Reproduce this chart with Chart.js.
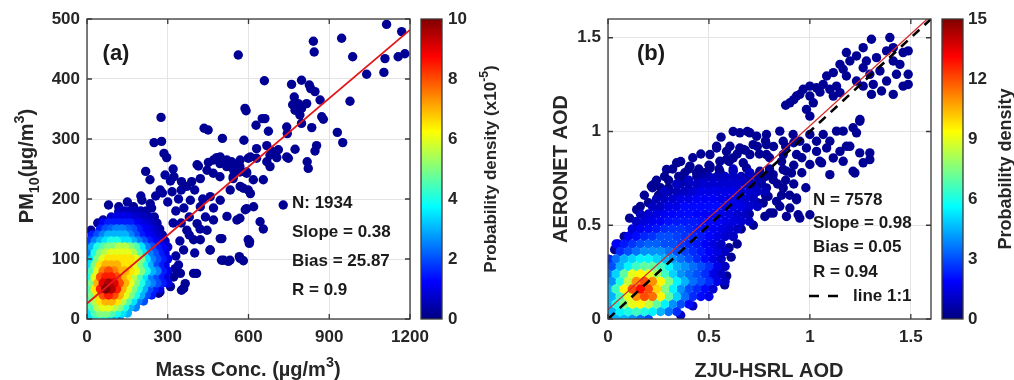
<!DOCTYPE html>
<html>
<head>
<meta charset="utf-8">
<script src="https://cdn.jsdelivr.net/npm/chart.js@4.4.0/dist/chart.umd.min.js"></script>
<style>
  html, body { margin: 0; padding: 0; background: #fff; }
  #wrap { position: relative; width: 1014px; height: 380px; overflow: hidden; }
  canvas { position: absolute; top: 0; }
</style>
</head>
<body>
<div id="wrap">
  <canvas id="plotA" style="left:0px" width="440" height="380"></canvas>
  <canvas id="plotB" style="left:510px" width="440" height="380"></canvas>
  <canvas id="barA" style="left:415px" width="95" height="380"></canvas>
  <canvas id="barB" style="left:935px" width="79" height="380"></canvas>
</div>
<script>
// ---- panel (a): PM10 vs mass concentration ----
const aRangeX = [0, 1200, 300];
const aRangeY = [0, 500, 100];
const aDensityRange = [0, 10, 2];
const aFitX = [0, 1200];
const aFitSlope = 0.38, aFitBias = 25.87;
const aStats = ['N: 1934', 'Slope = 0.38', 'Bias = 25.87', 'R = 0.9'];

// sparse points [x, y, density]
const aPoints = [
  [1113,491,0.2],[1169,479,0.2],[841,463,0.2],[844,445,0.2],[946,468,0.2],[562,440,0.2],[987,437,0.2],
  [1107,434,0.2],[1156,437,0.2],[1181,442,0.2],[1039,408,0.2],[1103,411,0.2],[659,397,0.2],[760,391,0.2],
  [797,398,0.2],[826,390,0.2],[831,384,0.2],[847,379,0.2],[866,365,0.2],[977,363,0.2],[770,370,0.2],
  [785,359,0.2],[773,348,0.2],[797,351,0.2],[816,359,0.2],[791,340,0.2],[764,357,0.2],[587,351,0.2],
  [591,347,0.2],[651,334,0.2],[628,323,0.2],[742,320,0.2],[797,326,0.2],[835,319,0.2],[872,337,0.2],
  [878,333,0.2],[674,313,0.2],[744,309,0.2],[930,311,0.2],[950,294,0.2],[583,298,0.2],[668,289,0.2],
  [630,284,0.2],[686,280,0.2],[711,282,0.2],[773,283,0.2],[853,289,0.2],[847,280,0.2],[705,269,0.2],
  [748,268,0.2],[818,262,0.2],[822,251,0.2],[668,262,0.2],[680,254,0.2],[599,268,0.2],[630,268,0.2],
  [655,232,0.2],[618,232,0.2],[537,262,0.2],[550,251,0.2],[568,245,0.2],[593,245,0.2],[543,234,0.2],
  [581,218,0.2],[599,215,0.2],[275,336,0.2],[249,294,0.2],[277,296,0.2],[286,276,0.2],[296,269,0.2],
  [218,246,0.2],[234,232,0.2],[323,237,0.2],[435,318,0.2],[450,315,0.2],[503,301,0.2],[661,334,0.2],
  [414,255,0.2],[451,261,0.2],[482,269,0.2],[494,259,0.2],[519,254,0.2],[543,259,0.2],[568,254,0.2],
  [351,229,0.2],[389,229,0.2],[421,234,0.2],[469,243,0.2],[494,237,0.2],[543,237,0.2],[593,243,0.2],
  [680,273,0.2],[742,270,0.2],[15,148,0.2],[80,190,0.2],[118,187,0.2],[118,179,0.2],[173,187,0.2],
  [204,198,0.2],[235,192,0.2],[272,215,0.2],[316,212,0.2],[371,221,0.2],[409,257,0.2],[446,248,0.2],
  [470,265,0.2],[495,270,0.2],[520,265,0.2],[545,248,0.2],[569,265,0.2],[607,270,0.2],[384,198,0.2],
  [421,187,0.2],[458,204,0.2],[495,198,0.2],[532,215,0.2],[569,221,0.2],[607,209,0.2],[619,187,0.2],
  [409,159,0.2],[446,148,0.2],[470,165,0.2],[520,171,0.2],[557,165,0.2],[588,182,0.2],[371,148,0.2],
  [396,132,0.2],[359,115,0.2],[421,132,0.2],[458,115,0.2],[501,134,0.2],[508,98,0.2],[569,101,0.2],
  [604,129,0.2],[328,84,0.2],[347,76,0.2],[365,59,0.2],[359,51,0.2],[396,76,0.2],[266,43,0.2],
  [285,70,0.2],[310,54,0.2],[322,70,0.2],[186,32,0.2],[729,190,0.2],[593,184,0.2],[643,162,0.2],
  [655,150,0.2],[599,132,0.2],[603,126,0.2],[500,98,0.2],[525,96,0.2],[566,104,0.2],[581,97,0.2],
  [457,115,0.2],[568,168,0.2],[495,134,0.2],[407,76,0.2],[351,48,0.2],[271,45,0.2],[531,98,0.2],
  [300,195,0.3],[330,180,0.3],[350,160,0.3],[340,200,0.3],[360,185,0.3],[380,170,0.3],[310,230,0.3],
  [280,210,0.3],[255,205,0.3],[240,185,0.3],[290,240,0.3],[320,250,0.3],[350,215,0.3],[400,215,0.3],
  [430,200,0.3],[380,140,0.3],[400,110,0.3],[420,150,0.3],[440,170,0.3],[470,185,0.3],[340,90,0.3],
  [330,105,0.3],[345,130,0.3],[320,160,0.3],[200,205,0.3],[150,195,0.3],[60,165,0.3],[40,160,0.3]
];

// dense cloud: density read on rows of the picture (row y, first x, step in x)
const aGridY  = [0, 10, 20, 30, 40, 50, 60, 70, 80, 90, 100, 110, 120, 130, 140, 150, 160, 170, 180];
const aGridX0 = [0, 10, 0, 10, 0, 10, 0, 10, 0, 10, 0, 10, 0, 10, 20, 50, 60, 90, 120];
const aGridStep = 20;
const aGridD = [
  [3, 3.5, 4, 4, 3.5, 3, 2.5],
  [3.5, 4.5, 5, 5, 4.5, 4, 3.5, 3],
  [3.5, 4.5, 5.5, 6, 6, 5.5, 5, 4, 3, 2.5],
  [4.5, 5.5, 6.5, 7, 7, 6.5, 5.5, 4.5, 3.5, 2.5, 2],
  [3.5, 5, 6.5, 8, 8.5, 8, 7, 6, 5, 4, 3, 2, 1.5],
  [4.5, 6.5, 8.5, 10, 9.5, 8.5, 7, 6, 5, 4, 3, 2, 1.5, 1],
  [3.5, 5, 7, 9, 9.5, 9, 8, 7, 6, 5, 4, 3, 2.5, 2, 1.5, 1],
  [4, 6, 8, 8.5, 8.5, 8, 7, 6.5, 5.5, 4.5, 3.5, 2.5, 2, 1.5, 1],
  [3, 4.5, 6, 7.5, 8, 7.5, 7, 7, 6.5, 6, 5, 4, 3, 2.5, 1.5, 1],
  [3.5, 5, 6.5, 7, 7, 7, 6.5, 6.5, 6, 5, 4, 3, 2, 1.5, 1],
  [2.5, 3.5, 5, 6, 6.5, 6.5, 6.5, 6.5, 6.5, 6, 5, 3.5, 2.5, 2, 1.5, 1],
  [2.5, 4, 5, 5.5, 6, 6, 6, 6, 5.5, 4.5, 3.5, 2.5, 2, 1.5, 1],
  [2, 3, 4, 4.5, 5, 5, 5.5, 5.5, 5, 4.5, 3.5, 2.5, 2, 1.5, 1.2, 0.8],
  [1.8, 2.5, 3, 3.5, 4, 4, 3.5, 3.5, 3, 2.5, 2, 1.5, 1.2, 0.8, 0.6],
  [1.5, 2, 2.5, 3, 3, 3, 3, 2.5, 2, 1.5, 1.2, 1, 0.7, 0.4],
  [1.5, 2, 2.2, 2.5, 2.5, 2.2, 2, 1.5, 1.2, 1, 0.7, 0.4],
  [1.2, 1.5, 1.5, 1.5, 1.5, 1.5, 1.2, 1, 0.8, 0.6, 0.4],
  [0.8, 1, 1, 1, 0.8, 0.7, 0.6, 0.5, 0.3],
  [0.6, 0.6, 0.5, 0.5, 0.4, 0.3]
];

// ---- panel (b): AERONET AOD vs ZJU-HSRL AOD ----
const bRangeX = [0, 1.6, 0.5];
const bRangeY = [0, 1.6, 0.5];
const bDensityRange = [0, 15, 3];
const bFitX = [0, 1.6];
const bFitSlope = 0.98, bFitBias = 0.05;
const bOneToOne = [0, 1.6];
const bStats = ['N = 7578', 'Slope = 0.98', 'Bias = 0.05', 'R = 0.94'];
const bLegendText = 'line 1:1';

const bPoints = [
  // upper cluster
  [1.305,1.492,0.3],[1.396,1.501,0.3],[1.264,1.447,0.3],[1.231,1.403,0.3],[1.181,1.421,0.3],[1.198,1.376,0.3],
  [1.280,1.376,0.3],[1.330,1.394,0.3],[1.380,1.430,0.3],[1.413,1.447,0.3],[1.462,1.421,0.3],[1.487,1.430,0.3],
  [1.149,1.358,0.3],[1.165,1.332,0.3],[1.116,1.314,0.3],[1.083,1.296,0.3],[1.181,1.296,0.3],[1.264,1.340,0.3],
  [1.297,1.305,0.3],[1.347,1.323,0.3],[1.380,1.269,0.3],[1.314,1.251,0.3],[1.231,1.269,0.3],[1.355,1.216,0.3],
  [1.413,1.198,0.3],[1.462,1.242,0.3],[1.487,1.251,0.3],[1.487,1.305,0.3],[1.429,1.305,0.3],[1.446,1.358,0.3],
  [1.413,1.376,0.3],[1.264,1.242,0.3],[1.305,1.198,0.3],
  // middle cluster
  [0.901,1.153,0.3],[0.934,1.189,0.3],[0.967,1.225,0.3],[1.0,1.242,0.3],[1.033,1.233,0.3],[1.066,1.251,0.3],
  [1.099,1.225,0.3],[1.132,1.242,0.3],[1.149,1.207,0.3],[1.116,1.189,0.3],[1.0,1.189,0.3],[1.017,1.153,0.3],
  [0.983,1.118,0.3],[1.0,1.082,0.3],[0.95,1.198,0.3],[0.92,1.17,0.3],[1.05,1.21,0.3],[0.88,1.14,0.3],
  // below the diagonal
  [1.0,0.984,0.3],[1.033,0.948,0.3],[1.066,0.984,0.3],[1.099,0.948,0.3],[1.132,1.002,0.3],[1.165,1.002,0.3],
  [1.214,1.020,0.3],[1.247,1.055,0.3],[1.231,0.993,0.3],[1.181,0.921,0.3],[1.149,0.894,0.3],[1.116,0.859,0.3],
  [1.165,0.841,0.3],[1.247,0.886,0.3],[1.297,0.850,0.3],[1.214,0.788,0.3],[1.099,0.770,0.3],[1.049,0.841,0.3],
  [1.083,0.912,0.3],[1.033,0.894,0.3],[0.983,0.912,0.3],[1.248,1.064,0.3],[1.198,0.921,0.3],[1.297,0.886,0.3],
  [1.264,0.833,0.3],[1.223,0.779,0.3],[1.058,0.833,0.3],[1.0,0.824,0.3],
  // left mass
  [0.653,0.993,0.3],[0.703,0.993,0.3],[0.785,0.984,0.3],[0.851,1.002,0.3],[0.917,0.984,0.3],[0.950,0.948,0.3],
  [0.868,0.948,0.3],[0.785,0.930,0.3],[0.719,0.930,0.3],[0.653,0.912,0.3],[0.587,0.894,0.3],[0.538,0.912,0.3],
  [0.505,0.877,0.3],[0.554,0.841,0.3],[0.620,0.859,0.3],[0.703,0.877,0.3],[0.785,0.877,0.3],[0.868,0.877,0.3],
  [0.934,0.877,0.3],[0.686,0.805,0.3],[0.752,0.788,0.3],[0.818,0.770,0.3],[0.884,0.788,0.3],[0.620,0.788,0.3],
  [0.554,0.788,0.3],[0.505,0.805,0.3],[0.934,0.645,0.3],[0.868,0.699,0.3],[0.785,0.699,0.3],[0.835,0.627,0.3],
  [0.901,0.592,0.3],[0.736,0.975,0.3],[0.538,0.921,0.3],[0.604,0.921,0.3],[0.670,0.904,0.3],[0.340,0.833,0.3],
  [0.290,0.797,0.3],[0.406,0.815,0.3],[0.439,0.779,0.3],[0.373,0.743,0.3],[0.224,0.716,0.3],[0.505,0.815,0.3],
  [0.587,0.851,0.3],[0.670,0.833,0.3],[0.703,0.779,0.3],[0.637,0.743,0.3],[0.571,0.761,0.3],[0.472,0.725,0.3],
  [0.72,0.70,0.3],[0.76,0.74,0.3],[0.80,0.80,0.3],[0.86,0.84,0.3],[0.92,0.82,0.3],[0.96,0.86,0.3],
  [0.16,0.60,0.3],[0.18,0.66,0.3],[0.24,0.74,0.3],[0.28,0.76,0.3],[0.32,0.80,0.3],[0.36,0.84,0.3],
  [0.42,0.86,0.3],[0.46,0.88,0.3],[0.30,0.74,0.3],[0.26,0.70,0.3],[0.38,0.78,0.3],[0.44,0.76,0.3],
  [0.48,0.78,0.3],[0.55,0.80,0.3],[0.60,0.84,0.3],[0.64,0.88,0.3],[0.68,0.90,0.3],[0.74,0.92,0.3],
  [0.78,0.95,0.3],[0.82,0.92,0.3],[0.88,0.92,0.3],[0.92,0.94,0.3],[0.56,0.97,0.3],[0.62,1.00,0.3],
  [0.69,1.00,0.3],[0.75,0.88,0.3],[0.80,0.86,0.3],[0.84,0.72,0.3],[0.88,0.74,0.3],[0.92,0.72,0.3],
  [0.96,0.78,0.3],[0.98,0.70,0.3],[0.90,0.66,0.3],[0.86,0.66,0.3],[0.78,0.66,0.3],[0.74,0.62,0.3],
  [0.70,0.56,0.3],[0.72,0.50,0.3],[0.66,0.48,0.3],[0.62,0.44,0.3],[0.60,0.38,0.3],[0.64,0.40,0.3],
  [0.57,0.28,0.3],[0.61,0.33,0.3],[0.12,0.46,0.3],[0.08,0.44,0.3],[0.05,0.40,0.3],[0.18,0.52,0.3],
  // right, low
  [0.934,0.636,0.3],[0.884,0.547,0.3],[0.942,0.556,0.3],[1.0,0.556,0.3],[0.950,0.538,0.3],[0.769,0.619,0.3],
  [0.802,0.565,0.3],[0.851,0.601,0.3],[0.909,0.779,0.3],[0.868,0.797,0.3],[0.818,0.743,0.3],[0.793,0.654,0.3],
  [0.777,0.547,0.3],[0.818,0.565,0.3],
  // scattered around the core
  [0.107,0.538,0.3],[0.215,0.708,0.3],[0.142,0.583,0.3],[0.092,0.414,0.3],[0.01,0.316,0.3],[0.033,0.37,0.3],
  [0.578,0.182,0.3],[0.487,0.182,0.3],[0.43,0.19,0.3],[0.545,0.37,0.3],[0.495,0.245,0.3],[0.528,0.245,0.3],
  [0.554,0.369,0.3],[0.505,0.23,0.3],[0.588,0.23,0.3],[0.414,0.227,0.3],[0.2,0.62,0.3],[0.25,0.66,0.3],
  [0.3,0.70,0.3],[0.35,0.76,0.3],[0.4,0.80,0.3],[0.45,0.80,0.3],[0.5,0.82,0.3],[0.22,0.70,0.3],
  [0.60,0.70,1],[0.64,0.68,1],[0.55,0.70,1],[0.50,0.70,1],[0.45,0.68,1],[0.40,0.68,1],[0.35,0.65,1],
  [0.30,0.60,1],[0.25,0.58,1],[0.20,0.55,1],[0.62,0.62,1],[0.66,0.64,1],[0.58,0.75,1],[0.66,0.74,1],
  [0.70,0.72,1],[0.52,0.75,1],[0.46,0.73,1],[0.40,0.74,1],[0.34,0.72,1],[0.28,0.68,1],[0.15,0.50,1],
  [0.54,0.38,1],[0.58,0.45,1],[0.60,0.50,1],[0.64,0.55,1],[0.68,0.60,1],[0.50,0.26,1],[0.56,0.32,1],
  [0.40,0.20,1],[0.46,0.18,1],[0.38,0.14,1],[0.42,0.07,1],[0.36,0.02,1],[0.72,0.66,1],[0.70,0.78,1],
  [0.62,0.80,1]
];

// dense band: density read on rows of the picture (row y, first x, step in x)
const bGridY  = [0, 0.04, 0.08, 0.12, 0.16, 0.20, 0.24, 0.28, 0.32, 0.36, 0.40, 0.44, 0.48, 0.52, 0.56, 0.60, 0.64, 0.68, 0.72, 0.76];
const bGridX0 = [0, 0.02, 0, 0.02, 0, 0.02, 0, 0.02, 0, 0.06, 0.04, 0.10, 0.12, 0.14, 0.16, 0.22, 0.24, 0.30, 0.36, 0.46];
const bGridStep = 0.04;
const bGridD = [
  [4, 4.5, 4.5, 4, 3.5, 3],
  [4.5, 5.5, 6, 6.5, 6, 5.5, 4.5, 3.5, 2.5],
  [4.5, 6, 7.5, 9, 9.5, 8.5, 7, 5.5, 4, 3, 2],
  [4.5, 6.5, 9, 11, 12, 11.5, 9.5, 7, 5, 3.5, 2.5, 2, 1.5],
  [4.5, 6.5, 9.5, 12, 13, 12, 10, 7.5, 5.5, 4, 3, 2.5, 2, 1.2],
  [4, 6, 8.5, 11, 12, 11, 9.5, 7.5, 5.5, 4.5, 3.5, 3, 2.5, 1.5, 1],
  [3.5, 5, 7, 9, 9.5, 9, 8, 6.5, 5, 4, 3.5, 3, 2.5, 1.5, 1],
  [3, 4.5, 5.5, 6.5, 7, 7, 6.5, 5.5, 4.5, 4, 3.5, 3, 2.5, 1.5, 1],
  [2.5, 3.5, 4.5, 5, 5.5, 5.5, 5, 4.5, 4, 3.5, 3, 2.5, 2, 1.5, 1],
  [2.5, 3, 3.5, 4, 4, 4, 3.5, 3, 2.8, 2.5, 2.2, 1.8, 1.4, 1],
  [1.8, 2.2, 2.6, 3, 3.3, 3.3, 3, 3, 2.7, 2.4, 2.2, 1.8, 1.4, 1],
  [1.6, 2, 2.4, 2.6, 3, 3, 2.8, 2.6, 2.4, 2.2, 1.9, 1.5, 1.2, 1],
  [1.3, 1.7, 2, 2.2, 2.5, 2.6, 2.6, 2.4, 2.2, 2, 1.8, 1.5, 1.2, 1],
  [1, 1.3, 1.6, 1.8, 2.1, 2.2, 2.2, 2.2, 2.1, 1.9, 1.8, 1.5, 1.4, 1.2, 1],
  [0.9, 1.2, 1.4, 1.7, 1.9, 2, 2, 1.9, 1.8, 1.7, 1.5, 1.4, 1.2, 1],
  [1, 1, 1.5, 1.5, 2, 2, 2, 2, 2, 1.5, 1.5, 1.5, 1.2, 1],
  [0.8, 1, 1.2, 1.5, 1.5, 1.8, 1.8, 1.8, 1.5, 1.5, 1.5, 1.2, 1],
  [0.6, 0.8, 1, 1.2, 1.5, 1.5, 1.5, 1.5, 1.5, 1.2, 1.2, 1, 0.8],
  [0.6, 0.8, 1, 1.2, 1.2, 1.2, 1.2, 1.2, 1, 0.8, 0.6],
  [0.5, 0.7, 0.8, 1, 1, 0.8, 0.7, 0.5, 0.4]
];

// ---- helpers ----
const FONT = '"Liberation Sans", Arial, sans-serif';
const INK = '#262626';
Chart.defaults.font.family = FONT;
Chart.defaults.font.weight = 'bold';
Chart.defaults.color = INK;

function jet(t) {
  t = Math.max(0, Math.min(1, t));
  const c = v => Math.round(255 * Math.max(0, Math.min(1, v)));
  return `rgb(${c(1.5 - Math.abs(4 * t - 3))},${c(1.5 - Math.abs(4 * t - 2))},${c(1.5 - Math.abs(4 * t - 1))})`;
}

function gridPoints(ys, x0s, step, rows) {
  const out = [];
  rows.forEach((row, r) => row.forEach((d, i) => out.push([x0s[r] + i * step, ys[r], d])));
  return out;
}

// low density first, so the densest points end up on top
function scatterData(points, dmax) {
  const sorted = points.slice().sort((p, q) => p[2] - q[2]);
  return {
    data: sorted.map(p => ({ x: p[0], y: p[1] })),
    colors: sorted.map(p => jet(p[2] / dmax))
  };
}

// text with sub/superscripts; parts = [[text, 'sub'|'sup'|undefined], ...]
function richText(ctx, parts, x, y, size, rotate) {
  ctx.save();
  ctx.translate(x, y);
  if (rotate) ctx.rotate(-Math.PI / 2);
  const segs = parts.map(p => {
    const s = p[1] ? size * 0.72 : size;
    ctx.font = `bold ${s}px ${FONT}`;
    const dy = p[1] === 'sub' ? size * 0.3 : p[1] === 'sup' ? -size * 0.45 : 0;
    return { t: p[0], s, dy, w: ctx.measureText(p[0]).width };
  });
  let cx = -segs.reduce((a, s) => a + s.w, 0) / 2;
  ctx.fillStyle = INK;
  ctx.textBaseline = 'alphabetic';
  segs.forEach(s => {
    ctx.font = `bold ${s.s}px ${FONT}`;
    ctx.fillText(s.t, cx, s.dy);
    cx += s.w;
  });
  ctx.restore();
}

function framePlugin(extra, innerTicks) {
  return {
    id: 'frame',
    afterDraw(chart) {
      const { ctx, chartArea: a, scales } = chart;
      ctx.save();
      ctx.strokeStyle = '#3a3a3a';
      ctx.lineWidth = 1.3;
      if (innerTicks) {
        ctx.beginPath();
        scales.x.ticks.forEach(t => {
          const px = scales.x.getPixelForValue(t.value);
          ctx.moveTo(px, a.bottom); ctx.lineTo(px, a.bottom - 5);
          ctx.moveTo(px, a.top); ctx.lineTo(px, a.top + 5);
        });
        scales.y.ticks.forEach(t => {
          const py = scales.y.getPixelForValue(t.value);
          ctx.moveTo(a.left, py); ctx.lineTo(a.left + 5, py);
          ctx.moveTo(a.right, py); ctx.lineTo(a.right - 5, py);
        });
        ctx.stroke();
      }
      ctx.strokeRect(a.left, a.top, a.right - a.left, a.bottom - a.top);
      ctx.restore();
      extra(chart.ctx, chart);
    }
  };
}

const plainTick = v => String(v);

function axisOpts(range, padding, fit) {
  return {
    type: 'linear',
    min: range[0], max: range[1],
    ticks: { stepSize: range[2], includeBounds: false, padding, callback: plainTick,
             font: { size: 17, weight: 'bold' }, color: INK },
    grid: { color: '#e4e4e4', lineWidth: 1, drawTicks: false },
    border: { display: false },
    afterFit: fit
  };
}

function scatterChart(id, points, dmax, rx, ry, lines, yWidth, rightPad, extra) {
  const sc = scatterData(points, dmax);
  return new Chart(document.getElementById(id), {
    type: 'scatter',
    data: {
      datasets: lines.concat([{
        data: sc.data,
        backgroundColor: sc.colors,
        pointRadius: 4.7,
        pointBorderWidth: 0,
        pointHoverRadius: 4.7
      }])
    },
    options: {
      responsive: false,
      animation: false,
      layout: { padding: { left: 0, top: 19, right: rightPad, bottom: 0 } },
      plugins: { legend: { display: false }, tooltip: { enabled: false } },
      scales: {
        x: axisOpts(rx, 8, s => { s.height = 61; s.paddingLeft = 0; s.paddingRight = 0; }),
        y: axisOpts(ry, 7, s => { s.width = yWidth; s.paddingTop = 0; s.paddingBottom = 0; })
      }
    },
    plugins: [framePlugin(extra, true)]
  });
}

function lineSet(xs, ys, color, width, dash) {
  return {
    data: xs.map((x, i) => ({ x, y: ys[i] })),
    showLine: true, pointRadius: 0, pointHoverRadius: 0,
    borderColor: color, borderWidth: width, borderDash: dash || [],
    fill: false
  };
}

function statsText(ctx, lines, x, ys) {
  ctx.save();
  ctx.fillStyle = '#1a1a1a';
  ctx.font = `bold 17px ${FONT}`;
  ctx.textBaseline = 'middle';
  ctx.textAlign = 'left';
  lines.forEach((t, i) => ctx.fillText(t, x, ys[i]));
  ctx.restore();
}

function panelLabel(ctx, t, x, y) {
  ctx.save();
  ctx.fillStyle = '#1a1a1a';
  ctx.font = `bold 22px ${FONT}`;
  ctx.textAlign = 'center';
  ctx.textBaseline = 'middle';
  ctx.fillText(t, x, y);
  ctx.restore();
}

// ---- panel (a) ----
scatterChart('plotA',
  aPoints.concat(gridPoints(aGridY, aGridX0, aGridStep, aGridD)),
  aDensityRange[1], aRangeX, aRangeY,
  [lineSet(aFitX, aFitX.map(x => aFitSlope * x + aFitBias), '#e3161b', 1.8)],
  87, 30,
  (ctx) => {
    panelLabel(ctx, '(a)', 116, 54);
    statsText(ctx, aStats, 292, [203, 232, 261, 290]);
    richText(ctx, [['Mass Conc. (µg/m'], ['3', 'sup'], [')']], 248, 376, 20, false);
    richText(ctx, [['PM'], ['10', 'sub'], ['(µg/m'], ['3', 'sup'], [')']], 33, 166, 20, true);
  });

// ---- panel (b) ----
scatterChart('plotB',
  bPoints.concat(gridPoints(bGridY, bGridX0, bGridStep, bGridD)),
  bDensityRange[1], bRangeX, bRangeY,
  [lineSet(bOneToOne, bOneToOne, '#000000', 2.6, [9, 7]),
   lineSet(bFitX, bFitX.map(x => bFitSlope * x + bFitBias), '#d42a2a', 1.3)],
  98, 19,
  (ctx) => {
    panelLabel(ctx, '(b)', 141, 54);
    statsText(ctx, bStats, 303, [200, 223, 247, 272]);
    statsText(ctx, [bLegendText], 343, [296]);
    ctx.save();
    ctx.strokeStyle = '#000';
    ctx.lineWidth = 2.6;
    ctx.beginPath();
    ctx.moveTo(299, 296); ctx.lineTo(309, 296);
    ctx.moveTo(318, 296); ctx.lineTo(328, 296);
    ctx.stroke();
    ctx.restore();
    richText(ctx, [['ZJU-HSRL AOD']], 259, 377, 20, false);
    richText(ctx, [['AERONET AOD']], 57, 169, 20, true);
  });

// ---- colour bars ----
function colorBar(id, range, leftPad, axisWidth, tickPad, label, labelX, labelSize) {
  return new Chart(document.getElementById(id), {
    type: 'bar',
    data: {
      labels: [''],
      datasets: [{
        data: [range[1]],
        borderWidth: 0,
        barPercentage: 1,
        categoryPercentage: 1,
        backgroundColor: (c) => {
          const a = c.chart.chartArea;
          if (!a) return '#00008f';
          const g = c.chart.ctx.createLinearGradient(0, a.bottom, 0, a.top);
          [0, 0.125, 0.375, 0.625, 0.875, 1].forEach(t => g.addColorStop(t, jet(t)));
          return g;
        }
      }]
    },
    options: {
      responsive: false,
      animation: false,
      layout: { padding: { left: leftPad, top: 19, right: 0, bottom: 61 } },
      plugins: { legend: { display: false }, tooltip: { enabled: false } },
      scales: {
        x: { display: false },
        y: {
          position: 'right',
          min: range[0], max: range[1],
          ticks: { stepSize: range[2], padding: tickPad, callback: plainTick,
                   font: { size: 17, weight: 'bold' }, color: INK },
          grid: { display: false, drawTicks: false },
          border: { display: false },
          afterFit: s => { s.width = axisWidth; s.paddingTop = 0; s.paddingBottom = 0; }
        }
      }
    },
    plugins: [framePlugin(ctx => richText(ctx, label, labelX, 169, labelSize, true), false)]
  });
}

colorBar('barA', aDensityRange, 6, 68, 6,
  [['Probability density (x10'], ['-5', 'sup'], [')']], 81, 17);
colorBar('barB', bDensityRange, 7, 51, 5,
  [['Probability density']], 76, 18);
</script>
</body>
</html>
